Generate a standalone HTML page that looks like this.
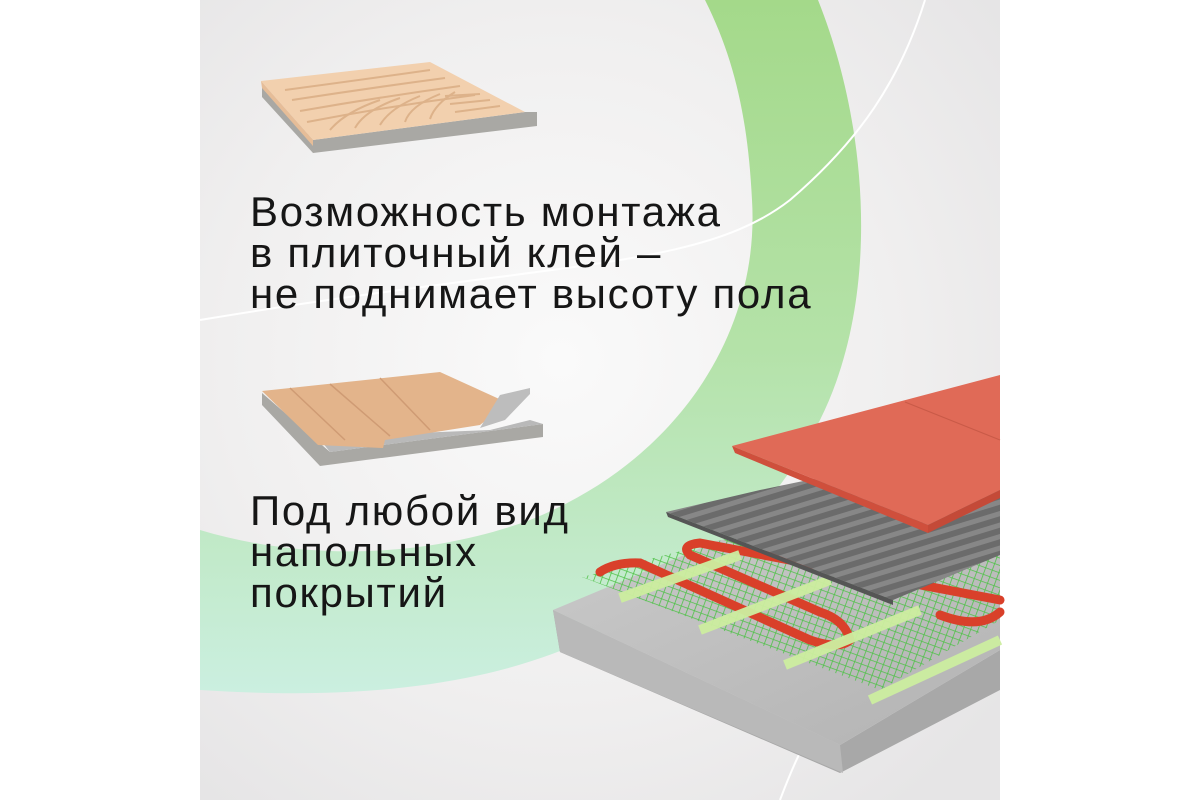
<!DOCTYPE html>
<html><head><meta charset="utf-8">
<style>
html,body{margin:0;padding:0;background:#fff;}
body{width:1200px;height:800px;position:relative;overflow:hidden;}
svg{position:absolute;left:0;top:0;}
.t{position:absolute;left:250px;font-family:"Liberation Sans","DejaVu Sans",sans-serif;font-size:42px;line-height:41px;color:#161616;letter-spacing:1.7px;}
</style></head><body>
<svg width="1200" height="800" viewBox="0 0 1200 800">
<defs>
<radialGradient id="bg" cx="0.45" cy="0.45" r="0.7">
<stop offset="0" stop-color="#fafafa"/><stop offset="0.6" stop-color="#f0efef"/><stop offset="1" stop-color="#e6e5e6"/>
</radialGradient>
<linearGradient id="gr" x1="0" y1="0" x2="0" y2="1">
<stop offset="0" stop-color="#a4d98a"/><stop offset="0.5" stop-color="#b4e2a8"/><stop offset="1" stop-color="#cbefe0"/>
</linearGradient>
<linearGradient id="conc" x1="0" y1="0" x2="1" y2="1">
<stop offset="0" stop-color="#c9c9c9"/><stop offset="1" stop-color="#b3b3b3"/>
</linearGradient>
<pattern id="mesh" width="7" height="7" patternUnits="userSpaceOnUse" patternTransform="rotate(20)">
<rect width="7" height="7" fill="none"/>
<path d="M0 0H7M0 0V7" stroke="#4fc248" stroke-width="1.6"/>
</pattern>
<pattern id="rib" width="11" height="11" patternUnits="userSpaceOnUse" patternTransform="rotate(-17)">
<rect width="11" height="11" fill="#6b6b6b"/>
<rect y="0" width="11" height="5" fill="#878787"/>
</pattern>
</defs>
<rect x="200" y="0" width="800" height="800" fill="url(#bg)"/>
<path d="M705 0 L818 0 C870 130 880 300 820 420 C760 540 640 640 480 675 C380 697 280 695 200 690 L200 530 C300 560 420 560 530 520 C680 460 760 330 752 200 C748 120 735 60 705 0 Z" fill="url(#gr)"/>
<path d="M925 0 C900 80 860 140 790 200 C700 270 560 260 200 320" stroke="#fff" stroke-width="2" fill="none"/>
<path d="M780 800 C810 720 840 680 870 650" stroke="#fff" stroke-width="2" fill="none"/>
<!-- tile 1 -->
<polygon points="262,83 262,97 313,153 537,126 537,112 525,112 313,140" fill="#a9a8a4"/>
<polygon points="261,81 430,62 525,112 313,140" fill="#f2d0ae"/>
<polygon points="261,81 313,140 313,146 262,88" fill="#e6bd98"/>
<g stroke="#ddb28a" stroke-width="2" fill="none">
<path d="M285 90 Q360 80 430 70"/><path d="M292 100 Q370 88 445 78"/><path d="M300 111 Q380 97 460 86"/><path d="M307 122 Q390 106 475 95"/>
<path d="M330 130 Q345 112 380 100"/><path d="M355 128 Q365 110 400 98"/><path d="M380 125 Q390 108 420 96"/><path d="M405 122 Q410 106 440 94"/><path d="M430 119 Q435 104 455 92"/>
<path d="M455 112 L500 106"/><path d="M450 104 L490 100"/><path d="M445 96 L480 94"/>
</g>
<!-- tile 2 -->
<polygon points="262,393 262,405 320,466 543,437 543,424 330,452" fill="#a9a8a4"/>
<polygon points="318,437 330,452 543,424 530,420 490,430" fill="#b9b9b9"/>
<polygon points="262,391 440,372 508,403 480,425 385,440 383,448 318,445" fill="#e3b48b"/>
<polygon points="500,395 530,388 530,394 505,420 480,428" fill="#bdbdbd"/>
<g stroke="#cf9b74" stroke-width="1.5"><path d="M290 388 L345 440"/><path d="M330 384 L390 436"/><path d="M380 378 L430 430"/></g>
<!-- big slab -->
<polygon points="553,610 840,745 1000,650 1000,690 840,773 560,652" fill="#a8a8a8"/>
<polygon points="553,610 840,745 843,773 560,652" fill="#b9b9b9"/>
<polygon points="553,610 720,540 1000,540 1000,650 840,745" fill="url(#conc)"/>
<polygon points="582,577 730,538 1000,540 1000,620 880,690" fill="url(#mesh)"/>
<g fill="none" stroke-linecap="round">
<path d="M600 572 Q615 562 640 563 L810 640 Q840 650 850 640 Q845 620 820 612 L690 555 Q680 545 700 543 L1000 600" stroke="#d9402a" stroke-width="9"/>
<path d="M940 615 Q980 630 1000 612" stroke="#d9402a" stroke-width="9"/>
</g>
<g stroke="#cdeea0" stroke-width="10" opacity="0.95">
<path d="M620 598 L740 555"/><path d="M700 630 L830 580"/><path d="M785 665 L920 610"/><path d="M870 700 L1000 640"/>
</g>
<polygon points="666,512 760,490 1000,440 1000,555 893,600" fill="url(#rib)"/>
<polygon points="666,512 893,600 893,605 668,517" fill="#555"/>
<polygon points="732,446 1000,375 1000,490 928,525" fill="#e06a57"/>
<polygon points="732,446 928,525 928,533 735,453" fill="#cf4f3c"/>
<polygon points="928,525 1000,490 1000,498 928,533" fill="#c44a38"/>
<path d="M905 402 L1000 440" stroke="#c95a48" stroke-width="1.2"/>
</svg>
<div class="t" style="top:191px;">Возможность монтажа<br>в плиточный клей –<br>не поднимает высоту пола</div>
<div class="t" style="top:490px;">Под любой вид<br>напольных<br>покрытий</div>
</body></html>
